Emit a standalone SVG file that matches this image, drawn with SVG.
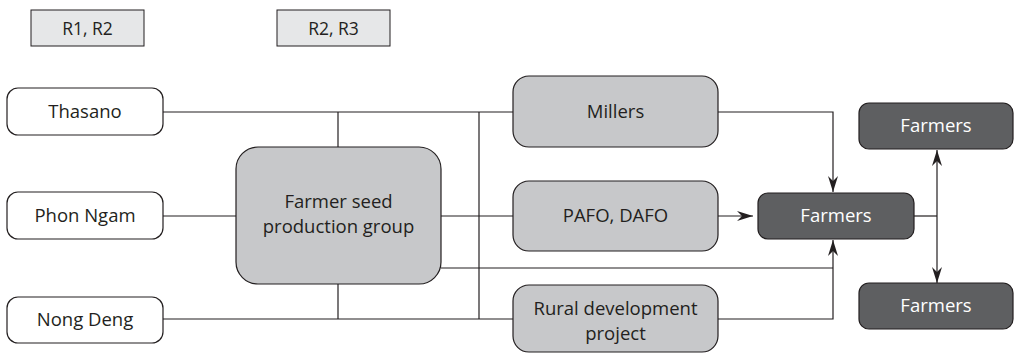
<svg xmlns="http://www.w3.org/2000/svg" width="1014" height="353" viewBox="0 0 1014 353">
<defs>
<style>
.lg{fill:#e6e7e8;stroke:#231f20;stroke-width:1}
.w{fill:#ffffff;stroke:#231f20;stroke-width:1.2}
.g{fill:#c7c8ca;stroke:#231f20;stroke-width:1.2}
.d{fill:#5e5f61;stroke:#231f20;stroke-width:1.2}
.t{font-family:"Open Sans","Liberation Sans",sans-serif;font-size:18.5px;fill:#231f20;text-anchor:middle}
.tw{font-family:"Open Sans","Liberation Sans",sans-serif;font-size:18.5px;fill:#ffffff;text-anchor:middle}
.ts{font-family:"Open Sans","Liberation Sans",sans-serif;font-size:17.5px;fill:#231f20;text-anchor:middle}
.c{fill:none;stroke:#231f20;stroke-width:1.2}
</style>
<marker id="ah" viewBox="0 0 16 10" refX="16" refY="5" markerWidth="16" markerHeight="10" markerUnits="userSpaceOnUse" orient="auto-start-reverse">
<path d="M0,0 L16,5 L0,10 L5,5 Z" fill="#231f20"/>
</marker>
</defs>
<g id="legend-r1r2"><rect class="lg" x="31" y="10" width="113" height="36"/><text class="ts" x="87.5" y="34.5">R1, R2</text></g>
<g id="legend-r2r3"><rect class="lg" x="277" y="10" width="113" height="36"/><text class="ts" x="333.5" y="34.5">R2, R3</text></g>
<g id="connectors">
<path class="c" d="M163,112 H513"/>
<path class="c" d="M338,112 V147"/>
<path class="c" d="M163,216 H236"/>
<path class="c" d="M441,216 H513"/>
<path class="c" d="M441,268 H833"/>
<path class="c" d="M163,319 H513"/>
<path class="c" d="M338,284 V319"/>
<path class="c" d="M479,112 V319"/>
<path class="c" d="M718,112 H833 V192" marker-end="url(#ah)"/>
<path class="c" d="M718,216 H753" marker-end="url(#ah)"/>
<path class="c" d="M718,319 H833 V240" marker-end="url(#ah)"/>
<path class="c" d="M914,216 H937"/>
<path class="c" d="M937,150 V283" marker-start="url(#ah)" marker-end="url(#ah)"/>
</g>
<g id="thasano"><rect class="w" x="7" y="88" width="156" height="47" rx="11"/><text class="t" x="85" y="118">Thasano</text></g>
<g id="phon-ngam"><rect class="w" x="7" y="192" width="156" height="47" rx="11"/><text class="t" x="85" y="222">Phon Ngam</text></g>
<g id="nong-deng"><rect class="w" x="7" y="297" width="156" height="46" rx="11"/><text class="t" x="85" y="326">Nong Deng</text></g>
<g id="fspg"><rect class="g" x="236" y="147" width="205" height="137" rx="22"/><text class="t" x="338.5" y="208">Farmer seed</text><text class="t" x="338.5" y="233">production group</text></g>
<g id="millers"><rect class="g" x="513" y="76" width="205" height="71" rx="16"/><text class="t" x="615.5" y="118">Millers</text></g>
<g id="pafo"><rect class="g" x="513" y="181" width="205" height="70" rx="16"/><text class="t" x="615.5" y="222">PAFO, DAFO</text></g>
<g id="rural"><rect class="g" x="513" y="285" width="205" height="67" rx="16"/><text class="t" x="615.5" y="315">Rural development</text><text class="t" x="615.5" y="340">project</text></g>
<g id="farmers-center"><rect class="d" x="758" y="193" width="156" height="46" rx="10"/><text class="tw" x="836" y="222">Farmers</text></g>
<g id="farmers-top"><rect class="d" x="859" y="103" width="154" height="46" rx="10"/><text class="tw" x="936" y="132">Farmers</text></g>
<g id="farmers-bottom"><rect class="d" x="859" y="283" width="154" height="46" rx="10"/><text class="tw" x="936" y="312">Farmers</text></g>
</svg>
